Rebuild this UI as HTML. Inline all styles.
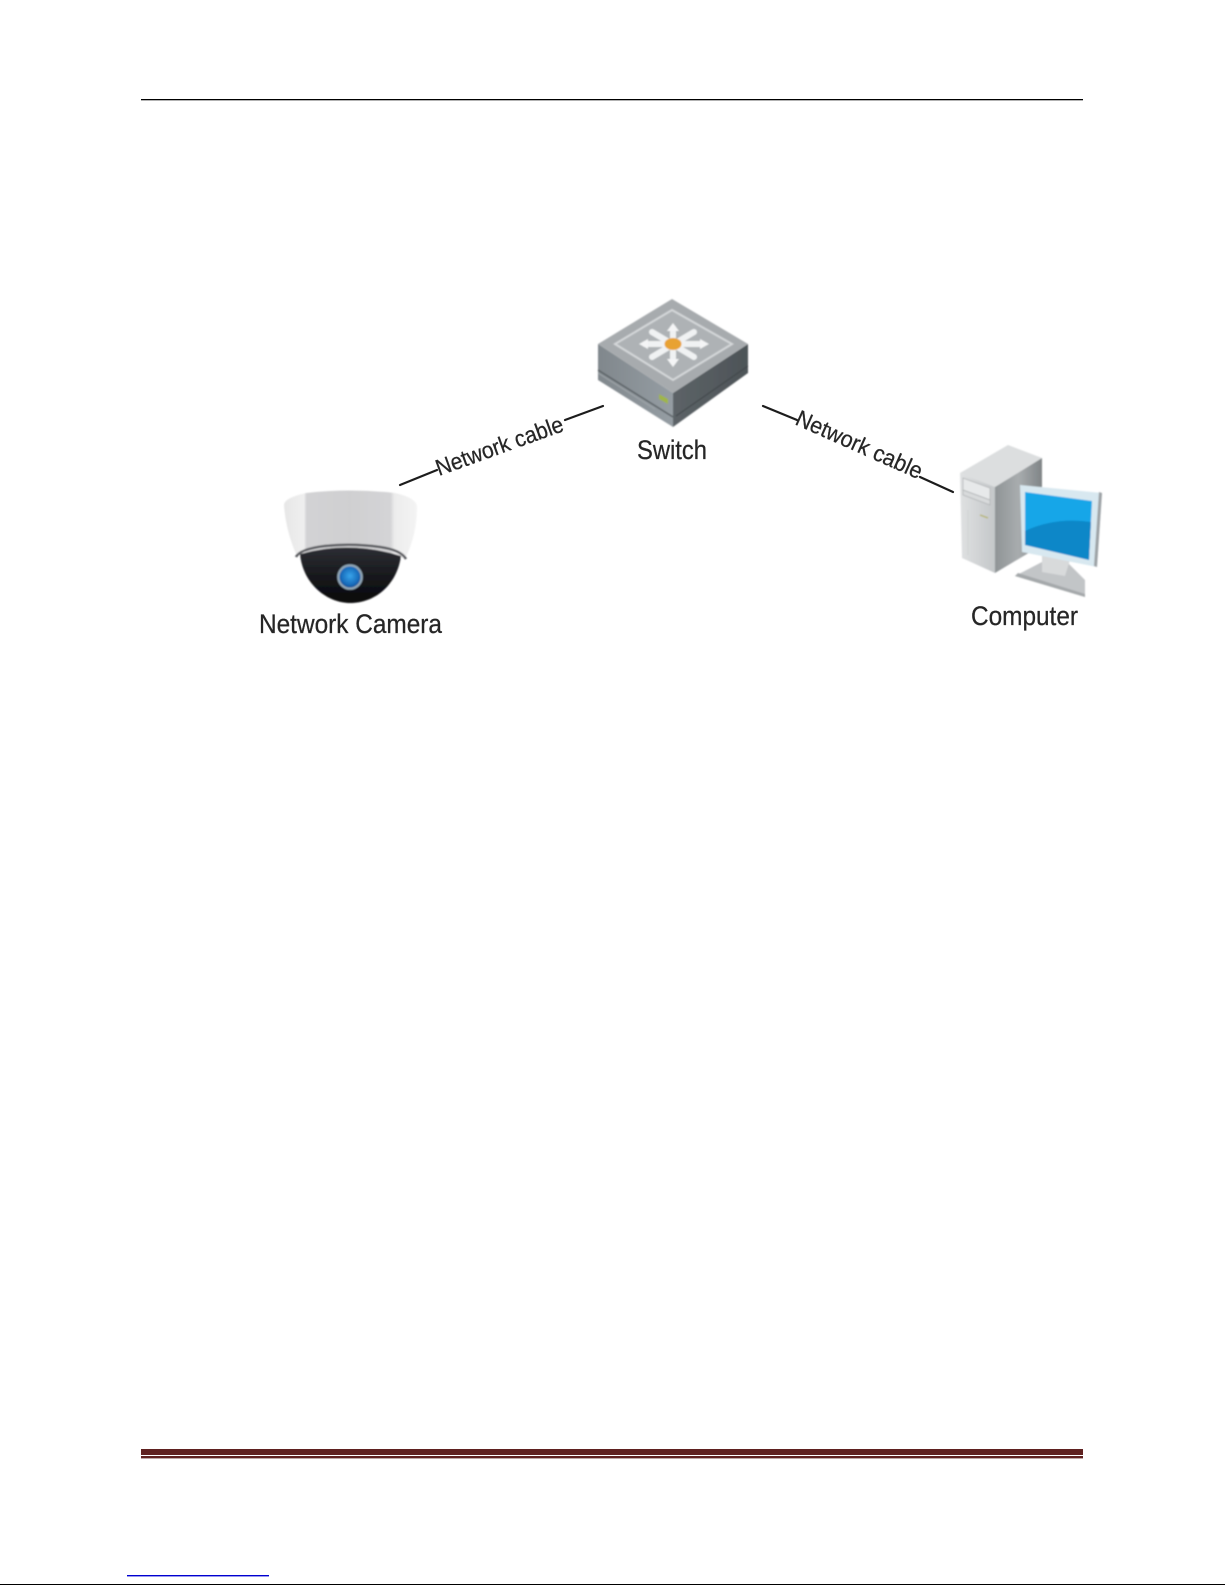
<!DOCTYPE html>
<html><head><meta charset="utf-8"><style>
html,body{margin:0;padding:0;background:#fff;width:1225px;height:1585px;overflow:hidden}
svg{display:block}
text{font-family:"Liberation Sans",sans-serif;fill:#262626}
</style></head><body>
<svg width="1225" height="1585" viewBox="0 0 1225 1585" xmlns="http://www.w3.org/2000/svg">
<defs>
<filter id="b" x="-10%" y="-10%" width="120%" height="120%"><feGaussianBlur stdDeviation="0.7"/></filter>
<filter id="t" x="-10%" y="-30%" width="120%" height="160%"><feGaussianBlur stdDeviation="0.35"/></filter>
<linearGradient id="shell" x1="0" x2="1" y1="0" y2="0">
<stop offset="0" stop-color="#e6e6e6"/><stop offset=".15" stop-color="#efefef"/><stop offset=".17" stop-color="#d2d2d4"/><stop offset=".5" stop-color="#cfcfd1"/><stop offset=".8" stop-color="#d4d4d6"/><stop offset=".83" stop-color="#ececec"/><stop offset="1" stop-color="#f4f4f4"/>
</linearGradient>
<linearGradient id="dome" x1="0" x2="0" y1="0" y2="1">
<stop offset="0" stop-color="#2c2e33"/><stop offset=".6" stop-color="#141519"/><stop offset="1" stop-color="#08080a"/>
</linearGradient>
<radialGradient id="lens" cx=".5" cy=".45" r=".55"><stop offset="0" stop-color="#38a4ea"/><stop offset=".8" stop-color="#1668b8"/><stop offset="1" stop-color="#0f4f90"/></radialGradient>
<linearGradient id="swL" x1="0" x2="1" y1="0" y2="0"><stop offset="0" stop-color="#80878c"/><stop offset="1" stop-color="#959da3"/></linearGradient>
<linearGradient id="swR" x1="0" x2="1" y1="0" y2="0"><stop offset="0" stop-color="#5c6367"/><stop offset="1" stop-color="#4d5357"/></linearGradient>
<linearGradient id="front" x1="0" x2="1" y1="0" y2="0"><stop offset="0" stop-color="#dfe1e2"/><stop offset="1" stop-color="#c4c7c9"/></linearGradient>
<linearGradient id="side" x1="0" x2="1" y1="0" y2="0"><stop offset="0" stop-color="#8f9496"/><stop offset=".5" stop-color="#a8acae"/><stop offset="1" stop-color="#7f8486"/></linearGradient>
</defs>

<!-- header rule -->
<rect x="141" y="99" width="942" height="1.3" fill="#000"/>
<!-- footer rules -->
<rect x="141" y="1449" width="942" height="6" fill="#5f2120"/>
<rect x="141" y="1456" width="942" height="2.4" fill="#5f2120"/>
<rect x="127" y="1575" width="142" height="1.4" fill="#0000d0"/>
<rect x="0" y="1584" width="1225" height="1" fill="#000"/>

<!-- cables -->
<g stroke="#1c1c1c" stroke-width="2.2" stroke-linecap="round" fill="none" filter="url(#t)">
<line x1="400" y1="485" x2="437" y2="470"/>
<line x1="565" y1="420" x2="603" y2="406"/>
<line x1="763" y1="406" x2="797" y2="420"/>
<line x1="920" y1="477" x2="953" y2="492"/>
</g>
<g filter="url(#t)" stroke="#262626" stroke-width=".25">
<text transform="translate(439,476) rotate(-19.8)" font-size="23" textLength="134" lengthAdjust="spacingAndGlyphs">Network cable</text>
<text transform="translate(794,424) rotate(24)" font-size="23" textLength="136" lengthAdjust="spacingAndGlyphs">Network cable</text>
</g>

<!-- camera -->
<g filter="url(#b)">
<path d="M284 505 Q284 498 306 493 Q350 488 395 493 Q417 498 417 507 Q417 535 405 559 Q350 540 297 556 Q286 532 284 505Z" fill="url(#shell)"/>
<path d="M300 554 C303 585 328 603 350 603 C375 603 397 585 401 556 Q350 540 300 554Z" fill="url(#dome)"/>
<path d="M296 557 Q300 549 325 546 Q352 543 380 547 Q401 550 406 559" fill="none" stroke="#5a5c60" stroke-width="2.5"/>
<circle cx="350" cy="577" r="12.8" fill="#8fa5b5"/>
<circle cx="350" cy="577" r="10.5" fill="url(#lens)"/>
</g>
<g stroke="#262626" stroke-width=".25" filter="url(#t)">
<text x="259" y="633" font-size="27" textLength="183" lengthAdjust="spacingAndGlyphs">Network Camera</text>
</g>

<!-- switch -->
<g filter="url(#b)">
<polygon points="598,344 673,393 673,427 598,380" fill="url(#swL)"/>
<polygon points="673,393 748,344 748,373 673,427" fill="url(#swR)"/>
<path d="M598 370 L673 417" stroke="#5b6266" stroke-width="1.5" fill="none"/>
<path d="M598 373 L655 409" stroke="#a0a6aa" stroke-width="1" fill="none"/>
<path d="M676 416 L748 366" stroke="#3f4548" stroke-width="1" fill="none"/>
<polygon points="672,299 748,344 673,393 598,344" fill="#a7abae"/>
<polygon points="672,310 732,344 673,380 615,344" fill="#aeb2b5" stroke="#d4d7d9" stroke-width="2"/>
<g stroke="#f0f2f3" stroke-width="6" stroke-linecap="round" fill="none">
<line x1="645" y1="344" x2="702" y2="344"/>
<line x1="673" y1="328" x2="673" y2="362"/>
<line x1="652" y1="332" x2="694" y2="357"/>
<line x1="694" y1="332" x2="652" y2="357"/>
</g>
<polygon points="639,344 648,339 648,349" fill="#f4f5f6"/>
<polygon points="709,344 700,339 700,349" fill="#f4f5f6"/>
<polygon points="673,323 667,331 679,331" fill="#f4f5f6"/>
<polygon points="673,367 667,359 679,359" fill="#f4f5f6"/>
<ellipse cx="673" cy="344" rx="8.5" ry="6" fill="#e8a232"/>
<polygon points="659,394 668,399 668,404 659,399" fill="#9fb54a"/>
</g>
<g stroke="#262626" stroke-width=".25" filter="url(#t)">
<text x="637" y="459" font-size="27" textLength="70" lengthAdjust="spacingAndGlyphs">Switch</text>
</g>

<!-- computer -->
<g filter="url(#b)">
<polygon points="960,473 1008,445 1042,458 995,487" fill="#dcdedf"/>
<polygon points="995,487 1042,458 1042,545 995,573" fill="url(#side)"/>
<polygon points="960,473 995,487 995,573 962,558" fill="url(#front)"/>
<polygon points="963,478 990,488 990,500 963,490" fill="#e7e9ea" stroke="#aeb1b3" stroke-width=".7"/>
<polygon points="963,490 990,500 990,505 963,495" fill="#d8dadb" stroke="#aeb1b3" stroke-width=".7"/>
<line x1="980" y1="515" x2="988" y2="518" stroke="#b5b46a" stroke-width="1.3"/>
<line x1="968" y1="510" x2="968" y2="555" stroke="#d0d2d3" stroke-width="1"/>
<polygon points="1015,576 1042,562 1068,563 1085,580 1085,597" fill="#c2c5c7"/>
<polygon points="1015,576 1085,597 1085,594 1018,573" fill="#a4a8aa"/>
<polygon points="1042,552 1070,560 1065,576 1042,572" fill="#d8dadb"/>
<polygon points="1020,485 1102,493 1097,567 1022,552" fill="#d8e8f0"/>
<polygon points="1099,492 1102,493 1097,567 1094,566" fill="#9da2a5"/>
<polygon points="1025,492 1092,501 1089,560 1025,545" fill="#16a6e8"/>
<path d="M1025 531 Q1055 517 1091 522 L1089 560 L1025 545Z" fill="#0a87c8"/>
</g>
<g stroke="#262626" stroke-width=".25" filter="url(#t)">
<text x="971" y="625" font-size="27" textLength="107" lengthAdjust="spacingAndGlyphs">Computer</text>
</g>
</svg>
</body></html>
